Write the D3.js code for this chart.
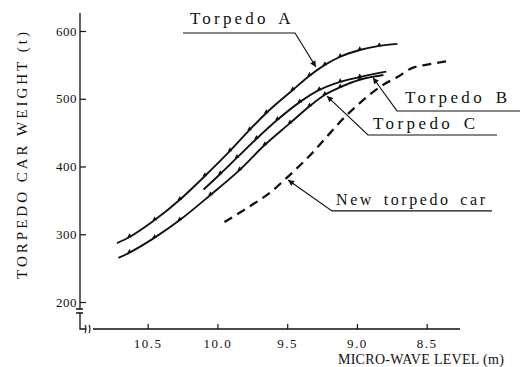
<!DOCTYPE html>
<html><head><meta charset="utf-8">
<script src="https://cdn.jsdelivr.net/npm/d3@7"></script>
<style>html,body{margin:0;padding:0;background:#fff}svg{display:block}</style>
</head><body><svg id="c" width="520" height="367"></svg>
<script>
// ---------- data ----------
const xTicks = [10.5, 10.0, 9.5, 9.0, 8.5];
const yTicks = [200, 300, 400, 500, 600];
const seriesNames = ["Torpedo A", "Torpedo B", "Torpedo C", "New torpedo car"];

const torpedoA_x = [10.72, 10.63, 10.45, 10.27, 10.09, 9.91, 9.77, 9.65, 9.46, 9.34, 9.23, 9.12, 8.98, 8.84, 8.71];
const torpedoA_y = [287, 296, 321, 351, 386, 423, 454, 479, 513, 534, 550, 562, 572, 578, 581];

const torpedoB_x = [10.10, 9.98, 9.86, 9.72, 9.57, 9.41, 9.27, 9.12, 8.98, 8.79];
const torpedoB_y = [366, 389, 413, 441, 469, 495, 513, 525, 532, 540];

const torpedoC_x = [10.71, 10.63, 10.45, 10.27, 10.05, 9.84, 9.66, 9.48, 9.34, 9.23, 9.12, 8.98, 8.81];
const torpedoC_y = [265, 273, 295, 321, 358, 395, 432, 464, 489, 506, 517, 528, 535];

const newCar_x = [9.95, 9.77, 9.62, 9.50, 9.32, 9.19, 9.12, 9.01, 8.91, 8.80, 8.71, 8.62, 8.48, 8.33];
const newCar_y = [318, 341, 362, 384, 420, 450, 466, 488, 506, 522, 532, 544, 551, 556];

// annotation anchors in data space: tip on curve, elbow, end of underline, label origin
const annotations = [
  {name: "Torpedo A", tip: [9.294, 547], elbow: [9.444, 597], end: [10.247, 597], label: [10.197, 610.5], size: 17, ls: 3.2},
  {name: "Torpedo B", tip: [8.885, 531], elbow: [8.713, 482], end: [7.831, 482], label: [8.656, 494], size: 17, ls: 3.4},
  {name: "Torpedo C", tip: [9.215, 504], elbow: [8.921, 446.6], end: [7.996, 446.6], label: [8.885, 455.5], size: 17, ls: 3.4},
  {name: "New torpedo car", tip: [9.494, 380], elbow: [9.179, 334.5], end: [8.032, 334.5], label: [9.150, 343.5], size: 16, ls: 2.6}
];

// ---------- chart ----------
const svg = d3.select("#c");
svg.append("rect").attr("width", 520).attr("height", 367).attr("fill", "#fff");

const x = d3.scaleLinear().domain([10.5, 8.5]).range([147.7, 426.7]);
const y = d3.scaleLinear().domain([200, 600]).range([302, 31]);

const fL = 80, fR = 460, fT = 13, fB = 329;
const serif = "'Liberation Serif','DejaVu Serif',serif";
const ink = "#111";

// defs: arrowhead
svg.append("defs").append("marker")
  .attr("id", "arr").attr("viewBox", "0 0 10 10").attr("refX", 10).attr("refY", 5)
  .attr("markerWidth", 9).attr("markerHeight", 6).attr("markerUnits", "userSpaceOnUse")
  .attr("orient", "auto")
  .append("path").attr("d", "M0,0L10,5L0,10Z").attr("fill", ink);

// Y axis
const gy = svg.append("g").attr("transform", `translate(${fL},0)`)
  .call(d3.axisLeft(y).tickValues(yTicks).tickSize(-6).tickPadding(3).tickFormat(d3.format("d")));
gy.select(".domain").remove();
gy.selectAll(".tick line").attr("stroke", ink).attr("stroke-width", 1.2);
gy.selectAll(".tick text").attr("font-family", serif).attr("font-size", 13)
  .attr("letter-spacing", 0.5).attr("fill", ink);

// X axis
const gx = svg.append("g").attr("transform", `translate(0,${fB})`)
  .call(d3.axisBottom(x).tickValues(xTicks).tickSize(-5).tickPadding(10).tickFormat(d3.format(".1f")));
gx.select(".domain").remove();
gx.selectAll(".tick line").attr("stroke", ink).attr("stroke-width", 1.2);
gx.selectAll(".tick text").attr("font-family", serif).attr("font-size", 13)
  .attr("letter-spacing", 1.5).attr("fill", ink);

// axis lines with breaks
const axisPath = d3.path();
axisPath.moveTo(fL, fT); axisPath.lineTo(fL, 309);
axisPath.moveTo(fL - 4, 309); axisPath.lineTo(fL + 3, 309);
axisPath.moveTo(fL - 4, 313); axisPath.lineTo(fL + 3, 313);
axisPath.moveTo(fL, 313); axisPath.lineTo(fL, fB); axisPath.lineTo(fL + 6, fB);
axisPath.moveTo(fL + 13, fB); axisPath.lineTo(fR, fB);
svg.append("path").attr("d", axisPath.toString()).attr("fill", "none")
  .attr("stroke", ink).attr("stroke-width", 1.3);
// x break squiggle
svg.append("path")
  .attr("d", `M${fL+5},${fB-4}q2,4 0,8M${fL+9},${fB-4}q2,4 0,8`)
  .attr("fill", "none").attr("stroke", ink).attr("stroke-width", 1.1);

// axis titles
svg.append("text").attr("transform", `translate(27,154) rotate(-90)`)
  .attr("text-anchor", "middle").attr("font-family", serif).attr("font-size", 15)
  .attr("letter-spacing", 3).attr("fill", ink).text("TORPEDO CAR WEIGHT (t)");
svg.append("text").attr("x", 421).attr("y", 364)
  .attr("text-anchor", "middle").attr("font-family", serif).attr("font-size", 14)
  .attr("letter-spacing", 0.3).attr("fill", ink).text("MICRO-WAVE LEVEL (m)");

// curves
const line = d3.line().x(d => x(d[0])).y(d => y(d[1])).curve(d3.curveMonotoneX);
const zip = (a, b) => a.map((v, i) => [v, b[i]]);
const series = [
  {name: seriesNames[0], pts: zip(torpedoA_x, torpedoA_y), dash: null},
  {name: seriesNames[1], pts: zip(torpedoB_x, torpedoB_y), dash: null},
  {name: seriesNames[2], pts: zip(torpedoC_x, torpedoC_y), dash: null},
  {name: seriesNames[3], pts: zip(newCar_x, newCar_y), dash: "9,6"}
];
svg.selectAll("path.series").data(series).join("path")
  .attr("class", "series")
  .attr("d", d => line(d.pts))
  .attr("fill", "none").attr("stroke", ink)
  .attr("stroke-width", d => d.dash ? 2.3 : 1.9)
  .attr("stroke-dasharray", d => d.dash);

// small triangle markers on measured curves
const tri = d3.symbol(d3.symbolTriangle).size(9);
series.filter(s => !s.dash).forEach(s => {
  svg.append("g").selectAll("path").data(s.pts.slice(1, -1)).join("path")
    .attr("d", tri)
    .attr("transform", d => `translate(${x(d[0])},${y(d[1]) - 1})`)
    .attr("fill", ink);
});

// annotations
const ag = svg.append("g");
annotations.forEach(a => {
  ag.append("path")
    .attr("d", `M${x(a.end[0])},${y(a.end[1])}L${x(a.elbow[0])},${y(a.elbow[1])}L${x(a.tip[0])},${y(a.tip[1])}`)
    .attr("fill", "none").attr("stroke", ink).attr("stroke-width", 1.1)
    .attr("marker-end", "url(#arr)");
  ag.append("text").attr("x", x(a.label[0])).attr("y", y(a.label[1]))
    .attr("font-family", serif).attr("font-size", a.size).attr("letter-spacing", a.ls)
    .attr("word-spacing", 3).attr("fill", ink).text(a.name);
});
</script></body></html>
